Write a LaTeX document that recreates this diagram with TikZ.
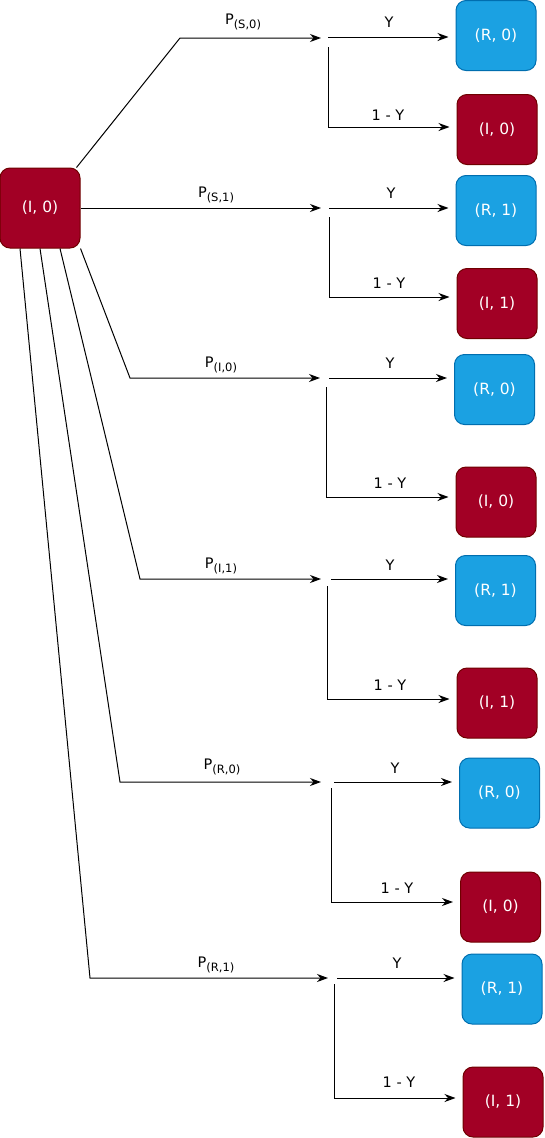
\documentclass[tikz,border=0pt]{standalone}
\usepackage{fontspec}
\setmainfont{DejaVu Sans}
\usetikzlibrary{arrows.meta}
\definecolor{redfill}{HTML}{A20025}
\definecolor{redline}{HTML}{6F0000}
\definecolor{bluefill}{HTML}{1BA1E2}
\definecolor{blueline}{HTML}{006EAF}
\tikzset{
  box/.style={rounded corners=10pt, minimum width=80pt, minimum height=70pt, inner sep=0pt,
    text=white, font=\fontsize{15.5}{18}\selectfont, line width=1pt},
  redbox/.style={box, fill=redfill, draw=redline},
  bluebox/.style={box, fill=bluefill, draw=blueline},
  conn/.style={line width=1pt, draw=black},
  arr/.style={conn, -{Stealth[length=11pt,width=8pt,inset=3.5pt]}},
  tonode/.style={arr, shorten >=7pt},
  lbl/.style={font=\fontsize{14.5}{16}\selectfont, inner sep=0pt},
}
\newcommand{\Psub}[1]{P\raisebox{-4.5pt}{\fontsize{11.5}{13}\selectfont(#1)}}
\begin{document}
\begin{tikzpicture}[x=1pt,y=-1pt]
\useasboundingbox (0,0) rectangle (544,1138);

% source
\node[redbox, minimum height=80pt] (src) at (40,208) {(I, 0)};

% targets
\node[bluebox] (b1) at (496,35.5) {(R, 0)};
\node[redbox]  (r1) at (497,129.5) {(I, 0)};
\node[bluebox] (b2) at (496,210.5) {(R, 1)};
\node[redbox]  (r2) at (497,303.5) {(I, 1)};
\node[bluebox] (b3) at (494.5,389.5) {(R, 0)};
\node[redbox]  (r3) at (496,502) {(I, 0)};
\node[bluebox] (b4) at (495.5,590.5) {(R, 1)};
\node[redbox]  (r4) at (497,703) {(I, 1)};
\node[bluebox] (b5) at (499.5,793) {(R, 0)};
\node[redbox]  (r5) at (500.5,907) {(I, 0)};
\node[bluebox] (b6) at (502,989) {(R, 1)};
\node[redbox]  (r6) at (503,1102) {(I, 1)};

% junction coordinates
\coordinate (bend1) at (180,38);  \coordinate (pt1) at (321,38);
\coordinate (ys1) at (328,37);    \coordinate (vs1) at (328,47);   \coordinate (ve1) at (328,127);
\coordinate (pt2) at (321,208);
\coordinate (ys2) at (329,208);   \coordinate (vs2) at (329,217);  \coordinate (ve2) at (329,297);
\coordinate (bend3) at (130,378); \coordinate (pt3) at (320,378);
\coordinate (ys3) at (329,378);   \coordinate (vs3) at (326,387);  \coordinate (ve3) at (326,497);
\coordinate (bend4) at (140,579); \coordinate (pt4) at (321,579);
\coordinate (ys4) at (331,579);   \coordinate (vs4) at (327,586);  \coordinate (ve4) at (327,699);
\coordinate (bend5) at (120,782); \coordinate (pt5) at (321,782);
\coordinate (ys5) at (334,782);   \coordinate (vs5) at (331,788);  \coordinate (ve5) at (331,902);
\coordinate (bend6) at (90,978);  \coordinate (pt6) at (328,978);
\coordinate (ys6) at (337,978);   \coordinate (vs6) at (334,984);  \coordinate (ve6) at (334,1098);

% source connectors
\draw[arr] ([xshift=-4pt]src.north east) -- (bend1) -- (pt1);
\draw[arr] (src.east) -- (pt2);
\draw[arr] (src.south east) -- (bend3) -- (pt3);
\draw[arr] ([xshift=20pt]src.south) -- (bend4) -- (pt4);
\draw[arr] (src.south) -- (bend5) -- (pt5);
\draw[arr] ([xshift=-20pt]src.south) -- (bend6) -- (pt6);

% branch connectors
\foreach \k in {1,...,6}{
  \draw[tonode] (ys\k) -- (ys\k -| b\k.west);
  \draw[tonode] (vs\k) -- (ve\k) -- (ve\k -| r\k.west);
}

% P labels
\node[lbl] (p1) at (243,22) {\Psub{S,0}};
\node[lbl] (p2) at (216,195) {\Psub{S,1}};
\node[lbl] (p3) at (221,365) {\Psub{I,0}};
\node[lbl] (p4) at (221,566) {\Psub{I,1}};
\node[lbl] (p5) at (222,767) {\Psub{R,0}};
\node[lbl] (p6) at (216,965) {\Psub{R,1}};

% gamma labels
\node[lbl] (u1) at (389,22) {Υ};
\node[lbl] (l1) at (388,115) {1 - Υ};
\node[lbl] (u2) at (391,193) {Υ};
\node[lbl] (l2) at (389,283) {1 - Υ};
\node[lbl] (u3) at (390,363) {Υ};
\node[lbl] (l3) at (390,483) {1 - Υ};
\node[lbl] (u4) at (390,565) {Υ};
\node[lbl] (l4) at (390,685) {1 - Υ};
\node[lbl] (u5) at (395,768) {Υ};
\node[lbl] (l5) at (397,888) {1 - Υ};
\node[lbl] (u6) at (397,963) {Υ};
\node[lbl] (l6) at (399,1082) {1 - Υ};
\end{tikzpicture}
\end{document}
